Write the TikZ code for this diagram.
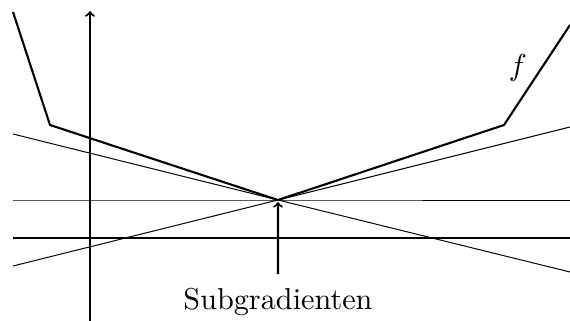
\documentclass[tikz,border=0pt]{standalone}
\usetikzlibrary{positioning}

\begin{document}
\begin{tikzpicture}[thin line/.style={line width=0.7pt}, thick line/.style={line width=1.5pt}]

        \useasboundingbox (-6.95, -3.025) rectangle (7.3, 5);

        % point where f has its kink
        \coordinate (O) at (0, 0);

        % axes
        \coordinate (x-l) at (-6.625, -0.95);
        \coordinate (x-r) at (7.3, -0.95);
        \coordinate (y-b) at (-4.7, -3.025);
        \coordinate (y-t) at (-4.7, 4.72);

        % f
        \coordinate (f-1) at (-6.625, 4.7);
        \coordinate (f-2) at (-5.7, 1.875);
        \coordinate (f-3) at (5.65, 1.875);
        \coordinate (f-4) at (7.3, 4.375);

        % subgradient lines
        \coordinate (g1-l) at (-6.625, 1.65);
        \coordinate (g1-r) at (7.3, -1.8);
        \coordinate (g2-l) at (-6.625, -1.65);
        \coordinate (g2-r) at (7.3, 1.825);
        \coordinate (g0-l) at (-6.625, 0);
        \coordinate (g0-r) at (7.3, 0);

        \draw[thin line] (g1-l) -- (O) -- (g1-r);
        \draw[thin line] (g2-l) -- (O) -- (g2-r);
        \draw[thin line] (g0-l) -- (O) -- (g0-r);

        \draw[thick line] (x-l) -- (x-r);
        \draw[thick line, ->] (y-b) -- (y-t);

        \draw[thick line, line join=miter] (f-1) -- (f-2) -- (O) -- (f-3) -- (f-4);

        \node (f) at (6.0, 3.3) [scale=2.15] {$f$};

        \node (sub) at (0, -2.75) [anchor=base, scale=2.15, inner ysep=4.6pt] {Subgradienten};

        \draw[thick line, ->, shorten >=1.5pt] (sub) -- (O);

    \end{tikzpicture}
\end{document}
